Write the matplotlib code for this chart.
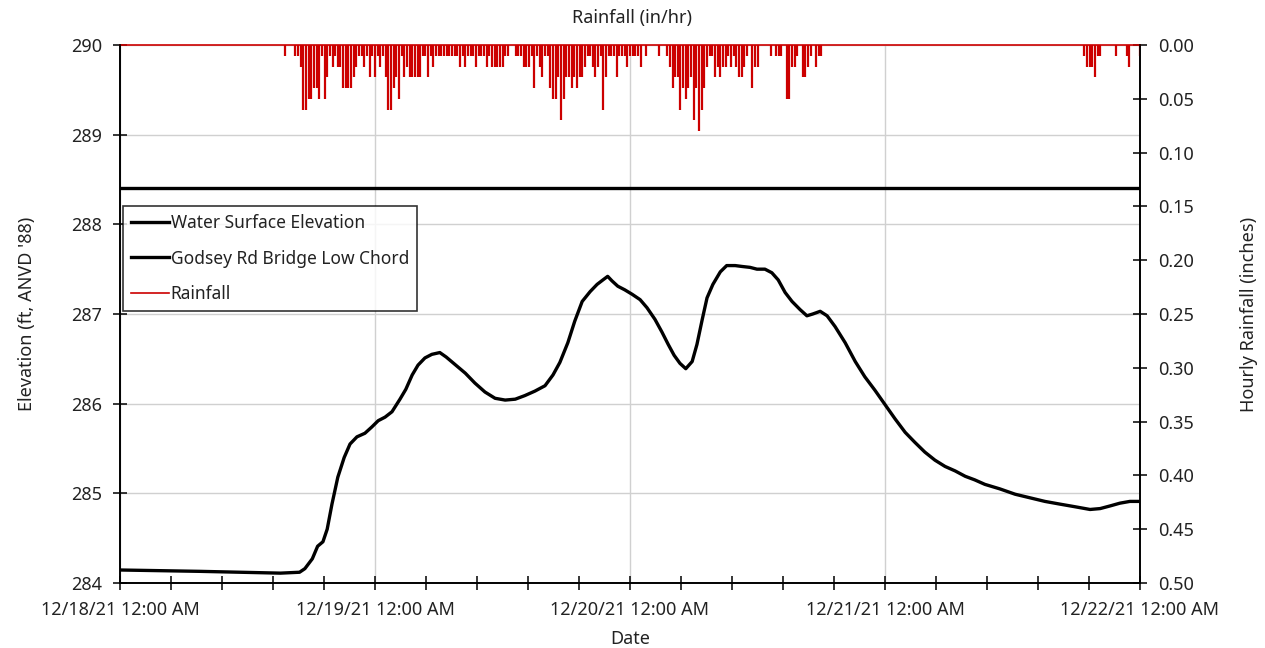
import datetime as dt
import matplotlib
matplotlib.use("Agg")
import matplotlib.pyplot as plt
import matplotlib.dates as mdates
from matplotlib.lines import Line2D
from matplotlib.ticker import MultipleLocator, FormatStrFormatter

plt.rcParams["font.family"] = ["Noto Sans", "DejaVu Sans"]

# Water surface elevation (hours after 12/18/21 00:00, ft NAVD '88)
wse_hours = [0, 7.5, 15.1, 16.9, 17.4, 18.1, 18.6, 19.1, 19.5, 19.95, 20.5, 21.1,
             21.65, 22.3, 23.05, 23.7, 24.3, 24.95, 25.6, 26.35, 26.9, 27.5, 28.05,
             28.7, 29.35, 30.1, 30.7, 31.5, 32.5, 33.4, 34.35, 35.3, 36.25, 37.2,
             38.1, 39.05, 40.0, 40.75, 41.4, 42.15, 42.8, 43.5, 44.25, 44.9, 45.45,
             45.9, 46.3, 46.85, 47.5, 48.2, 48.95, 49.6, 50.35, 51.0, 51.6, 52.15,
             52.7, 53.25, 53.85, 54.3, 54.8, 55.25, 55.8, 56.5, 57.1, 57.9, 58.55,
             59.3, 59.95, 60.7, 61.35, 61.95, 62.6, 63.25, 64.0, 64.65, 65.2, 65.9,
             66.55, 67.3, 68.25, 69.2, 70.1, 71.05, 72.0, 72.95, 73.9, 74.8, 75.75,
             76.7, 77.65, 78.6, 79.55, 80.45, 81.4, 82.8, 84.25, 85.65, 87.05, 88.45,
             89.9, 91.3, 92.25, 93.2, 94.1, 95.05, 96.0]
wse_ft = [284.145, 284.13, 284.11, 284.12, 284.16, 284.27, 284.41, 284.46, 284.60,
          284.88, 285.18, 285.40, 285.55, 285.63, 285.67, 285.74, 285.81, 285.85,
          285.91, 286.05, 286.16, 286.32, 286.43, 286.51, 286.55, 286.57, 286.52,
          286.44, 286.34, 286.23, 286.13, 286.06, 286.04, 286.05, 286.09, 286.14,
          286.20, 286.32, 286.46, 286.68, 286.92, 287.14, 287.25, 287.33, 287.38,
          287.42, 287.37, 287.31, 287.27, 287.22, 287.16, 287.07, 286.94, 286.80,
          286.66, 286.54, 286.45, 286.39, 286.47, 286.66, 286.94, 287.18, 287.33,
          287.47, 287.54, 287.54, 287.53, 287.52, 287.50, 287.50, 287.46, 287.38,
          287.24, 287.14, 287.05, 286.98, 287.00, 287.03, 286.98, 286.86, 286.68,
          286.47, 286.30, 286.15, 285.99, 285.83, 285.68, 285.57, 285.46, 285.37,
          285.30, 285.25, 285.19, 285.15, 285.10, 285.05, 284.99, 284.95, 284.91,
          284.88, 284.85, 284.82, 284.83, 284.86, 284.89, 284.91, 284.91]

# Godsey Rd bridge low chord elevation (ft)
low_chord_ft = 288.41

# 15-minute rainfall depths (hundredths of an inch), two storm periods
rain_start_1 = dt.datetime(2021, 12, 18, 15, 30)
rain_1 = [1, 0, 0, 0, 1, 1, 2, 6, 6, 5, 5, 4, 4, 5, 1, 5, 3, 1, 2, 1,
          2, 2, 4, 4, 4, 4, 3, 2, 1, 1, 2, 1, 3, 1, 3, 1, 2, 1, 3, 6,
          6, 4, 3, 5, 1, 3, 2, 3, 3, 3, 3, 3, 1, 1, 3, 1, 2, 1, 1, 1,
          1, 1, 1, 1, 1, 1, 2, 1, 2, 1, 1, 1, 2, 1, 1, 1, 2, 1, 2, 2,
          2, 2, 2, 1, 1, 0, 0, 1, 1, 1, 2, 2, 2, 1, 4, 1, 2, 3, 1, 1,
          4, 5, 5, 3, 7, 5, 3, 3, 4, 3, 4, 3, 3, 2, 1, 1, 2, 3, 2, 1,
          6, 3, 1, 1, 1, 3, 1, 1, 1, 2, 1, 1, 1, 1, 2, 0, 1, 0, 0, 0,
          0, 1, 0, 0, 1, 2, 4, 3, 3, 6, 4, 5, 4, 3, 7, 4, 8, 6, 4, 2,
          1, 1, 3, 2, 3, 2, 2, 1, 2, 1, 2, 3, 3, 2, 1, 0, 4, 2, 2, 0,
          0, 0, 0, 1, 0, 1, 1, 1, 0, 5, 5, 2, 2, 1, 0, 3, 3, 2, 1, 0,
          2, 1, 1]
rain_start_2 = dt.datetime(2021, 12, 21, 18, 45)
rain_2 = [1, 2, 2, 2, 3, 1, 1, 0, 0, 0, 0, 0, 1, 0, 0, 0, 1, 2, 0, 0, 0, 1]

t0 = dt.datetime(2021, 12, 18, 0, 0)
t_end = dt.datetime(2021, 12, 22, 0, 0)
wse_time = [t0 + dt.timedelta(hours=h) for h in wse_hours]

rain_time, rain_in = [], []
for start, series in ((rain_start_1, rain_1), (rain_start_2, rain_2)):
    for k, v in enumerate(series):
        if v > 0:
            rain_time.append(start + dt.timedelta(minutes=15 * k))
            rain_in.append(v / 100.0)

RED = "#cc0000"
GRID = "#d0d0d0"
TXT = "#222222"
FS = 13

fig = plt.figure(figsize=(12.65, 6.48), dpi=100)
ax = fig.add_axes([120 / 1265, 1 - 583 / 648, 1020 / 1265, 538 / 648])
ax2 = ax.twinx()

# elevation axis
ax.plot(wse_time, wse_ft, color="black", lw=2.4, zorder=3)
ax.plot([t0, t_end], [low_chord_ft, low_chord_ft], color="black", lw=2.4, zorder=3)
ax.set_xlim(t0, t_end)
ax.set_ylim(284, 290)
ax.yaxis.set_major_locator(MultipleLocator(1))
ax.xaxis.set_major_locator(mdates.DayLocator())
ax.xaxis.set_minor_locator(MultipleLocator(0.2))
ax.xaxis.set_major_formatter(mdates.DateFormatter("%m/%d/%y %I:%M %p"))
ax.grid(True, which="major", color=GRID, lw=1)
ax.set_axisbelow(True)

# rainfall axis (inverted, hanging from the top)
ax2.vlines(rain_time, 0, rain_in, color=RED, lw=1.6)
ax2.plot([t0, t_end], [0, 0], color=RED, lw=1.2, clip_on=False)
ax2.set_ylim(0.5, 0)
ax2.yaxis.set_major_locator(MultipleLocator(0.05))
ax2.yaxis.set_major_formatter(FormatStrFormatter("%.2f"))

for a in (ax, ax2):
    a.spines["top"].set_visible(False)
    for s in a.spines.values():
        s.set_linewidth(1.2)
    a.tick_params(which="both", direction="inout", length=10, width=1.1,
                  labelsize=FS, colors="black", labelcolor=TXT)
ax.tick_params(axis="x", which="major", pad=8)
ax.tick_params(axis="y", which="major", pad=8)
ax2.tick_params(axis="y", which="major", pad=8)

ax.set_ylabel("Elevation (ft, ANVD '88)", fontsize=FS, labelpad=25, color=TXT)
ax2.set_ylabel("Hourly Rainfall (inches)", fontsize=FS, labelpad=33, color=TXT)
ax.set_xlabel("Date", fontsize=FS, labelpad=8, color=TXT)
fig.text(0.5, 1 - 18 / 648, "Rainfall (in/hr)", ha="center", va="center",
         fontsize=FS, color=TXT)

handles = [Line2D([], [], color="black", lw=2.4),
           Line2D([], [], color="black", lw=2.4),
           Line2D([], [], color=RED, lw=1.2)]
labels = ["Water Surface Elevation", "Godsey Rd Bridge Low Chord", "Rainfall"]
leg = ax2.legend(handles, labels, loc="upper left", bbox_to_anchor=(0.003, 0.70),
                 frameon=True, fancybox=False, edgecolor="black", fontsize=12.5,
                 handlelength=2.2, handletextpad=0.1, labelspacing=1.0,
                 borderpad=0.45, borderaxespad=0)
leg.get_frame().set_linewidth(1.2)
for t in leg.get_texts():
    t.set_color(TXT)

fig.savefig("out.png", dpi=100)
